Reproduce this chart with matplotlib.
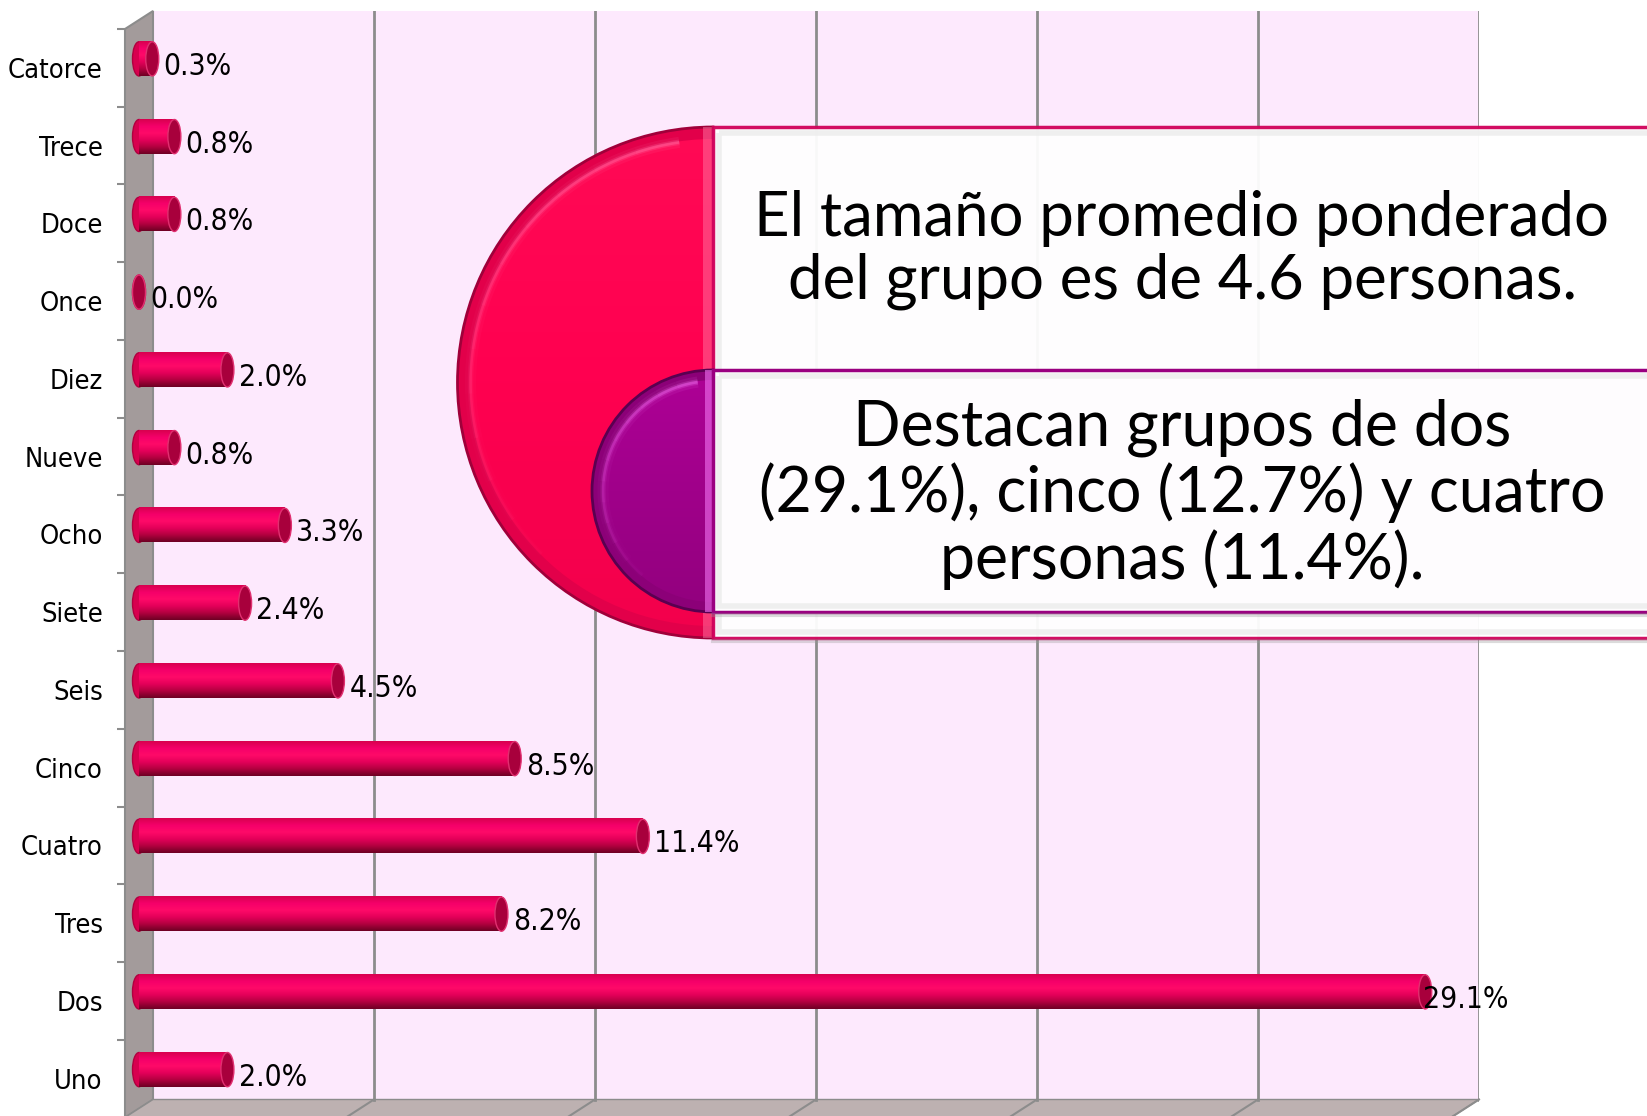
import numpy as np
import matplotlib
matplotlib.use("Agg")
import matplotlib.pyplot as plt
from matplotlib import font_manager
from matplotlib.font_manager import FontProperties
from matplotlib.colors import LinearSegmentedColormap
from matplotlib.patches import Polygon, Ellipse, Wedge, Rectangle, Arc

# data
categories = ["Uno", "Dos", "Tres", "Cuatro", "Cinco", "Seis", "Siete",
              "Ocho", "Nueve", "Diez", "Once", "Doce", "Trece", "Catorce"]
values = [2.0, 29.1, 8.2, 11.4, 8.5, 4.5, 2.4, 3.3, 0.8, 2.0, 0.0, 0.8, 0.8, 0.3]
x_ticks = [0, 5, 10, 15, 20, 25, 30]

note_top = "El tamaño promedio ponderado\ndel grupo es de 4.6 personas."
note_bottom = "Destacan grupos de dos\n(29.1%), cinco (12.7%) y cuatro\npersonas (11.4%)."

names = {f.name for f in font_manager.fontManager.ttflist}
note_font = 'Lato' if 'Lato' in names else 'DejaVu Sans'
# tahoma-like labels: condensed dejavu if there is one
cond_path = font_manager.findfont(FontProperties(family='DejaVu Sans', stretch='condensed'))
if 'Condensed' in cond_path:
    label_fp = dict(family='DejaVu Sans', stretch='condensed')
    tick_size, val_size = 19.5, 21.5
elif 'DejaVu Sans Condensed' in names:
    label_fp = dict(family='DejaVu Sans Condensed')
    tick_size, val_size = 19.5, 21.5
else:
    label_fp = dict(family='DejaVu Sans')
    tick_size, val_size = 18, 20.5

W, H = 1647, 1116
fig = plt.figure(figsize=(W / 100, H / 100), dpi=100)
fig.patch.set_facecolor('white')

# plot area in pixels, DX/DY = fake 3d depth
DX, DY = 28, 18
left_px, right_px = 125, 1479
top_px, bottom_px = 11, 1117.5
ax = fig.add_axes([left_px / W, (H - bottom_px) / H,
                   (right_px - left_px) / W, (bottom_px - top_px) / H])
xmax = x_ticks[-1]
ppx = (right_px - left_px - DX) / xmax
ppy = (bottom_px - top_px - DY) / len(categories)
dx = DX / ppx
dy = DY / ppy
y0, y1 = -0.5, len(categories) - 0.5

# walls and floor
ax.add_patch(Rectangle((dx, y0 + dy), xmax, y1 - y0, fc='#fde9fd', ec='none', zorder=0))
ax.add_patch(Polygon([(0, y0), (dx, y0 + dy), (dx, y1 + dy), (0, y1)], closed=True,
                     fc='#a39b9b', ec='#8c8c8c', lw=1.5, zorder=1, clip_on=False))
ax.add_patch(Polygon([(0, y0), (xmax, y0), (xmax + dx, y0 + dy), (dx, y0 + dy)], closed=True,
                     fc='#bdb1b1', ec='#8c8c8c', lw=1, zorder=1, clip_on=False))
for t in x_ticks[1:]:
    ax.plot([t + dx, t + dx], [y0 + dy, y1 + dy], color='#8c8c8c', lw=2, zorder=1)
    ax.plot([t, t + dx], [y0, y0 + dy], color='#8c8c8c', lw=1.5, zorder=1, clip_on=False)

# cylinder bars
h = 0.44
capw = 13 / ppx
cmap_bar = LinearSegmentedColormap.from_list(
    'bar', ['#6e0024', '#b3003f', '#e4005a', '#ff0a68', '#f5006a', '#d8004f'])
grad = np.linspace(0, 1, 64).reshape(-1, 1)
for i, v in enumerate(values):
    x0 = dx / 2
    yc = i + dy / 2
    ax.add_patch(Ellipse((x0, yc), capw, h, fc='#d8004f', ec='#b0003f', lw=1, zorder=3))
    if v > 0:
        ax.imshow(grad, cmap=cmap_bar, origin='lower', aspect='auto',
                  extent=[x0, x0 + v, yc - h / 2, yc + h / 2], zorder=4, interpolation='bicubic')
    ax.add_patch(Ellipse((x0 + v, yc), capw, h, fc='#a8003c', ec='#e03070', lw=1, zorder=5))

for i, v in enumerate(values):
    off = -0.2 if v == max(values) else 0.11
    ax.text(dx / 2 + v + capw / 2 + off, i + 0.02, f"{v:.1f}%", va='center', ha='left',
            fontsize=val_size, color='black', zorder=6, **label_fp)

ax.set_xlim(0, xmax + dx)
ax.set_ylim(y0, y1 + dy)
ax.set_xticks([])
ax.set_yticks(range(len(categories)), categories)
ax.set_yticks(np.arange(y0, y1 + 0.1, 1), minor=True)
ax.tick_params(axis='y', which='major', length=0, pad=16, labelsize=tick_size)
ax.tick_params(axis='y', which='minor', length=6, width=1.5, color='#8c8c8c', direction='out')
for lab in ax.get_yticklabels():
    lab.set_family(label_fp['family'])
    if 'stretch' in label_fp:
        lab.set_stretch(label_fp['stretch'])
for s in ax.spines.values():
    s.set_visible(False)
ax.patch.set_visible(False)

# overlay with the callout shapes (pixel coords)
ov = fig.add_axes([0, 0, 1, 1])
ov.set_xlim(0, W)
ov.set_ylim(H, 0)
ov.axis('off')


def half_disk(cx, cy, r, band, colors, rim, rim_band, glow, glow_span, z):
    ov.add_patch(Wedge((cx, cy), r, 90, 270, fc=rim_band, ec=rim, lw=2, zorder=z))
    w = Wedge((cx, cy), r - band, 90, 270, fc='none', ec='none')
    ov.add_patch(w)
    cm = LinearSegmentedColormap.from_list('d', colors)
    img = cm(np.linspace(0, 1, 256))[:, None, :]
    im = ov.imshow(img, origin='upper', aspect='auto',
                   extent=[cx - r, cx, cy + r, cy - r], zorder=z + 0.1)
    im.set_clip_path(w)
    # soft highlight, fading out toward the lower end
    n = 12
    span = np.linspace(glow_span[0], glow_span[1], n + 1)
    for k in range(n):
        fade = (k + 1) / n
        for lw, a in [(8, 0.10), (4, 0.22), (2, 0.4)]:
            ov.add_patch(Arc((cx, cy), 2 * (r - band - 1), 2 * (r - band - 1),
                             theta1=span[k], theta2=span[k + 1],
                             color=glow, lw=lw, alpha=a * fade, zorder=z + 0.2))


half_disk(713, 382.5, 255.5, 12, ['#ff0a55', '#ff0050', '#f2004c'],
          '#a0003a', '#e2004a', '#ff70a8', (135, 262), 2)
ov.add_patch(Rectangle((703, 127), 10, 511, fc='#ff80aa', ec='none', alpha=0.45, zorder=2.5))

ov.add_patch(Rectangle((713, 127), 960, 511, fc='white', alpha=0.95, ec='#d0005a', lw=2.5, zorder=4))
ov.add_patch(Rectangle((719, 133), 948, 499, fc='none', ec='#ececec', lw=4, alpha=0.8, zorder=4))
ov.plot([713, W], [641, 641], color='#999999', lw=3, alpha=0.35, zorder=4)

half_disk(713, 491, 121, 10, ['#ae0096', '#a0008a', '#92007e'],
          '#5a0050', '#8c0078', '#f070f0', (130, 262), 4.5)
ov.add_patch(Rectangle((705, 370), 8, 242, fc='#f070f0', ec='none', alpha=0.6, zorder=4.8))

ov.add_patch(Rectangle((713, 370), 960, 242, fc='#fefcfe', ec='#9a0080', lw=2.5, zorder=5))
ov.add_patch(Rectangle((719, 376), 948, 230, fc='none', ec='#ececec', lw=4, alpha=0.8, zorder=5))
ov.plot([713, W], [615, 615], color='#999999', lw=3, alpha=0.35, zorder=5)

ov.text(1182, 250, note_top, ha='center', va='center', fontsize=44.5, family=note_font,
        linespacing=1.12, color='black', zorder=6)
ov.text(1182, 494, note_bottom, ha='center', va='center', fontsize=45, family=note_font,
        linespacing=1.12, color='black', zorder=6)

fig.savefig('out.png', dpi=100)
